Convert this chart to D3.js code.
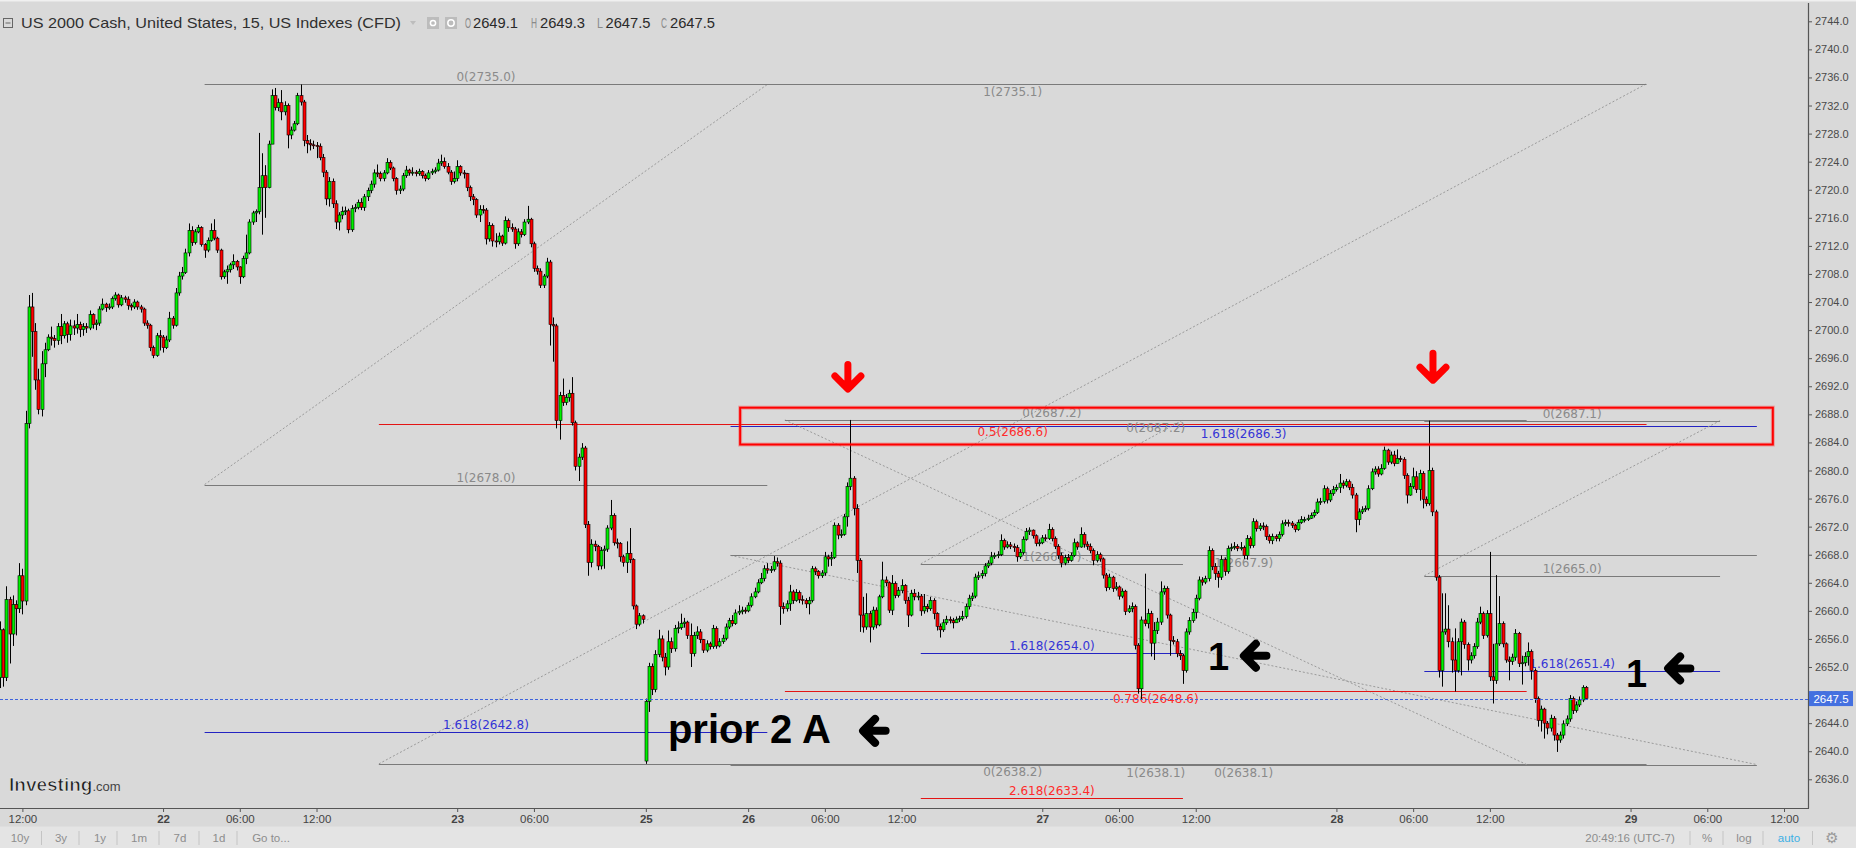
<!DOCTYPE html>
<html><head><meta charset="utf-8">
<script src="https://cdn.jsdelivr.net/npm/d3@7"></script>
<style>html,body{margin:0;padding:0;background:#d9d9d9;overflow:hidden}svg{display:block}</style>
</head><body>
<script>
// ---------------- DATA ----------------
const headerTitle = "US 2000 Cash, United States, 15, US Indexes (CFD)";
const ohlcLetters = ["O","H","L","C"];
const ohlcValues = ["2649.1","2649.3","2647.5","2647.5"];
const lastPrice = 2647.5;

// 15-minute bars, index = bar number on the trading-time axis
const closes = [
2657.3,2650.5,2661.6,2656.7,2660.9,2660.3,2665.0,2661.4,2686.7,2703.3,2699.8,2692.9,2688.7,2695.2,2697.2,2699.0,2698.8,2698.5,2700.5,2699.2,
2700.9,2699.4,2700.6,2700.3,2700.8,2700.1,2700.5,2700.3,2702.2,2700.8,2701.0,2703.0,2703.7,2703.2,2703.3,2704.5,2705.0,2703.6,2704.6,2704.4,
2703.5,2703.3,2704.0,2703.3,2703.0,2701.0,2700.7,2697.5,2696.4,2699.2,2699.0,2697.5,2698.6,2701.7,2700.7,2705.3,2707.7,2708.2,2711.0,2714.2,
2712.5,2714.0,2714.6,2712.2,2711.4,2712.8,2714.2,2713.1,2711.4,2707.6,2708.3,2708.6,2709.3,2709.8,2709.0,2707.6,2710.2,2711.0,2715.4,2716.7,
2716.9,2720.3,2722.0,2720.3,2726.5,2733.4,2731.7,2732.4,2731.1,2732.0,2727.8,2728.5,2729.4,2733.4,2732.5,2727.0,2726.6,2726.4,2726.3,2726.2,
2724.6,2722.5,2718.7,2721.2,2718.0,2715.4,2716.4,2716.9,2717.0,2714.3,2717.3,2717.5,2718.2,2717.5,2719.0,2719.9,2720.8,2722.4,2722.3,2721.6,
2722.4,2723.9,2723.1,2721.6,2719.9,2720.1,2722.0,2722.8,2722.4,2722.5,2722.3,2722.6,2722.0,2721.6,2722.4,2722.6,2722.8,2723.8,2724.0,2723.3,
2722.5,2721.2,2721.6,2723.3,2722.4,2722.3,2720.3,2719.0,2718.6,2716.4,2717.2,2717.1,2713.0,2714.9,2712.7,2712.6,2713.4,2712.4,2715.6,2714.6,
2714.4,2712.3,2714.0,2713.6,2715.4,2715.8,2712.3,2708.8,2708.4,2706.4,2707.7,2709.7,2700.8,2700.6,2687.1,2690.7,2689.7,2690.4,2691.0,2686.8,
2680.6,2681.9,2683.2,2672.3,2666.9,2669.5,2669.2,2666.4,2668.6,2668.8,2671.8,2673.6,2669.7,2669.6,2667.7,2666.9,2668.2,2667.3,2660.7,2658.1,
2659.3,2658.8,2647.1,2652.1,2648.8,2653.8,2656.0,2653.4,2652.0,2655.6,2654.6,2657.5,2657.6,2658.2,2658.4,2656.5,2653.9,2656.5,2657.0,2655.9,
2654.4,2655.3,2654.9,2657.5,2655.0,2655.6,2656.1,2657.7,2658.6,2658.2,2659.7,2659.9,2660.1,2660.0,2660.8,2662.0,2662.7,2664.0,2664.6,2666.0,
2665.8,2665.9,2667.0,2666.8,2660.6,2660.3,2661.0,2662.7,2661.5,2662.6,2661.6,2661.5,2661.0,2661.5,2666.0,2665.6,2665.0,2665.4,2667.7,2667.4,
2667.6,2672.2,2670.8,2670.9,2673.4,2677.7,2678.9,2674.6,2667.2,2659.4,2657.7,2659.6,2657.7,2660.1,2658.0,2662.0,2664.4,2664.0,2660.1,2663.9,
2662.2,2662.9,2663.6,2661.5,2659.4,2662.5,2662.0,2662.1,2660.0,2660.6,2660.3,2661.5,2659.6,2657.8,2657.3,2658.3,2658.8,2658.6,2658.3,2658.8,
2658.9,2659.2,2660.6,2661.8,2662.1,2664.8,2665.0,2665.3,2666.4,2666.8,2667.7,2667.9,2668.0,2670.0,2669.1,2669.4,2669.2,2669.0,2667.7,2668.3,
2670.2,2671.3,2671.5,2670.7,2669.6,2669.7,2670.4,2670.3,2671.6,2670.3,2669.2,2667.9,2666.8,2667.6,2667.2,2667.9,2669.7,2669.1,2670.9,2669.5,
2669.2,2668.6,2667.2,2668.0,2667.4,2665.1,2663.3,2664.8,2663.2,2663.4,2662.1,2662.8,2659.9,2660.3,2660.6,2655.1,2648.9,2658.7,2658.2,2659.6,
2655.4,2657.2,2658.4,2662.7,2663.2,2659.4,2655.8,2655.6,2653.9,2653.6,2651.5,2657.0,2658.6,2659.8,2661.8,2664.4,2664.1,2664.6,2668.6,2666.3,
2665.3,2664.8,2667.3,2665.6,2668.9,2669.0,2669.2,2668.9,2669.0,2667.9,2670.3,2669.3,2672.7,2671.7,2672.1,2672.0,2670.6,2670.0,2670.6,2670.3,
2670.9,2672.4,2672.6,2672.5,2672.2,2671.6,2672.6,2673.0,2673.0,2673.2,2673.6,2674.0,2675.5,2675.6,2677.4,2675.8,2676.7,2677.3,2677.6,2678.2,
2677.9,2678.4,2677.6,2676.5,2673.0,2674.1,2674.4,2674.6,2677.4,2679.8,2680.2,2679.5,2680.3,2682.9,2681.2,2682.2,2681.0,2681.7,2681.6,2679.3,
2676.5,2677.7,2679.1,2677.3,2679.6,2675.9,2675.3,2680.0,2674.1,2664.8,2651.5,2657.0,2657.4,2655.6,2653.0,2651.5,2655.6,2658.4,2655.2,2653.0,
2653.6,2654.9,2658.4,2659.6,2656.5,2659.6,2650.6,2650.1,2655.3,2658.2,2655.3,2653.0,2652.8,2653.4,2656.8,2652.5,2652.6,2653.5,2654.2,2651.5,
2647.5,2644.4,2646.0,2644.0,2643.3,2644.7,2642.3,2641.6,2642.3,2643.9,2644.6,2647.5,2645.8,2646.6,2647.3,2649.1,2647.5];

const highs = [
2658.5,2657.5,2663.5,2662.0,2662.2,2661.5,2666.8,2666.0,2688.5,2705.0,2705.3,2701.0,2694.5,2697.0,2698.2,2699.4,2700.5,2699.3,2701.0,2702.3,
2701.3,2701.2,2701.5,2701.4,2702.3,2701.2,2701.0,2701.0,2702.8,2702.4,2701.5,2703.4,2704.5,2703.9,2703.8,2704.8,2705.4,2705.2,2705.0,2704.9,
2704.8,2703.8,2704.4,2704.2,2703.6,2703.2,2701.4,2700.9,2697.8,2699.6,2700.0,2699.3,2699.2,2702.6,2702.0,2706.0,2708.3,2709.0,2711.6,2715.2,
2714.8,2714.4,2715.0,2714.8,2712.4,2713.2,2715.2,2715.8,2713.3,2711.6,2708.6,2709.2,2709.6,2710.8,2710.0,2709.1,2710.6,2713.6,2715.8,2717.0,
2717.2,2728.1,2725.2,2723.5,2727.0,2734.3,2734.5,2733.0,2734.2,2732.6,2732.3,2729.0,2729.8,2733.8,2735.0,2732.8,2727.8,2727.2,2727.0,2726.8,
2726.6,2725.1,2722.8,2721.8,2721.6,2718.5,2716.8,2717.6,2717.6,2717.3,2717.8,2718.0,2718.6,2718.8,2719.4,2720.3,2721.3,2722.9,2723.6,2722.6,
2722.8,2724.5,2724.2,2723.3,2721.8,2720.6,2722.4,2723.4,2723.0,2723.2,2722.8,2723.0,2722.8,2722.3,2722.8,2723.0,2723.2,2724.4,2725.0,2724.6,
2723.8,2722.8,2722.6,2724.2,2723.5,2722.8,2722.4,2720.6,2719.4,2718.8,2717.8,2717.8,2717.4,2715.4,2715.2,2713.8,2713.9,2713.6,2716.2,2715.9,
2715.2,2714.7,2714.5,2714.4,2715.8,2717.7,2716.0,2712.6,2709.2,2708.8,2708.0,2710.3,2710.0,2701.8,2700.9,2691.2,2693.1,2690.9,2691.5,2693.3,
2687.1,2682.4,2683.9,2683.5,2672.8,2670.2,2670.0,2669.4,2669.1,2669.3,2672.2,2675.8,2673.9,2670.3,2669.8,2668.0,2669.9,2671.8,2667.5,2660.9,
2659.7,2659.5,2647.5,2652.6,2652.5,2654.4,2657.3,2656.5,2654.0,2657.2,2656.2,2658.0,2658.5,2659.6,2659.0,2658.6,2658.2,2657.0,2657.8,2657.4,
2656.0,2655.8,2655.6,2658.0,2657.8,2656.1,2656.6,2658.2,2659.0,2659.4,2660.2,2660.8,2660.6,2660.5,2661.2,2662.5,2663.3,2664.5,2665.4,2666.5,
2666.8,2666.4,2667.8,2667.6,2667.2,2661.2,2661.5,2663.7,2663.0,2663.1,2662.9,2662.2,2661.8,2662.0,2666.4,2666.3,2665.8,2665.8,2668.4,2668.0,
2668.4,2672.6,2672.5,2671.6,2673.8,2678.3,2687.2,2679.2,2675.2,2667.5,2662.0,2662.5,2660.0,2660.6,2660.5,2662.3,2667.0,2664.9,2664.2,2665.1,
2664.2,2663.4,2664.5,2663.8,2662.0,2663.0,2663.1,2662.7,2662.4,2662.4,2661.0,2662.0,2661.8,2659.8,2658.2,2658.8,2659.3,2659.2,2659.0,2659.2,
2659.3,2660.0,2661.0,2662.3,2662.6,2665.3,2665.6,2665.8,2666.8,2667.2,2668.4,2668.3,2668.5,2670.9,2670.3,2669.9,2669.8,2669.6,2669.4,2668.8,
2670.6,2671.8,2671.9,2671.6,2670.9,2670.2,2670.8,2670.9,2672.4,2671.9,2670.6,2669.5,2668.3,2668.0,2668.1,2668.3,2670.3,2669.9,2671.9,2671.2,
2669.9,2669.6,2668.9,2668.5,2668.3,2667.6,2665.4,2665.3,2665.0,2664.1,2663.6,2663.2,2663.0,2660.8,2661.2,2660.9,2655.4,2659.2,2665.3,2660.3,
2660.0,2658.4,2659.0,2664.2,2663.6,2663.5,2659.6,2656.4,2656.0,2654.4,2653.9,2657.5,2659.1,2660.3,2662.3,2664.9,2664.8,2665.0,2669.2,2668.9,
2666.8,2665.7,2667.9,2667.6,2669.3,2669.6,2669.8,2669.5,2669.8,2669.3,2670.8,2670.6,2673.2,2673.0,2672.5,2672.6,2672.3,2670.9,2671.0,2670.9,
2671.3,2672.9,2673.0,2673.0,2672.8,2672.4,2673.0,2673.5,2673.4,2673.7,2674.0,2674.4,2676.0,2676.1,2677.9,2677.7,2677.2,2677.8,2678.0,2679.5,
2678.6,2678.8,2678.7,2678.1,2676.8,2674.6,2674.9,2675.0,2677.9,2680.3,2680.6,2680.6,2680.9,2683.4,2683.1,2682.7,2682.8,2683.0,2682.1,2681.9,
2679.6,2678.2,2680.4,2679.9,2680.1,2679.9,2676.3,2687.1,2680.4,2674.4,2665.1,2662.5,2662.5,2660.8,2656.2,2657.5,2656.1,2658.9,2658.7,2655.5,
2654.1,2655.4,2659.0,2660.6,2659.9,2660.1,2668.4,2655.3,2665.1,2662.1,2658.5,2655.5,2653.5,2653.9,2657.4,2657.0,2653.6,2654.1,2655.5,2654.5,
2651.8,2647.8,2646.5,2646.2,2644.3,2645.2,2645.0,2642.6,2642.8,2644.4,2645.1,2648.0,2647.8,2647.1,2647.8,2649.4,2649.3];

const lows = [
2649.0,2649.2,2650.0,2652.5,2655.0,2656.5,2659.7,2659.5,2660.8,2686.0,2696.2,2691.5,2688.0,2687.7,2693.3,2697.0,2697.8,2697.5,2697.9,2698.0,
2698.8,2698.2,2698.5,2699.3,2699.5,2699.0,2699.2,2699.6,2700.0,2700.2,2700.0,2700.6,2702.8,2702.6,2702.9,2703.0,2704.2,2703.2,2703.4,2703.9,
2702.9,2702.8,2703.0,2702.9,2702.5,2700.6,2700.2,2697.0,2696.0,2696.2,2697.1,2696.8,2697.3,2698.3,2700.2,2700.5,2704.9,2707.2,2708.0,2710.5,
2712.0,2712.2,2713.8,2711.9,2710.3,2711.1,2712.6,2712.8,2711.0,2707.2,2707.3,2706.6,2708.2,2708.7,2708.5,2706.6,2707.4,2709.4,2710.8,2715.0,
2715.4,2716.5,2713.6,2716.0,2720.2,2726.5,2731.3,2731.2,2729.9,2730.6,2725.9,2727.2,2728.3,2729.2,2732.0,2726.2,2725.2,2725.6,2725.8,2724.5,
2724.2,2721.8,2717.8,2717.6,2717.4,2714.4,2714.2,2715.8,2716.4,2713.8,2714.0,2716.8,2717.2,2717.1,2717.0,2718.4,2719.5,2720.3,2721.8,2721.2,
2721.2,2722.2,2722.8,2721.2,2719.3,2719.4,2719.8,2721.7,2722.0,2722.0,2721.9,2722.0,2721.6,2721.2,2721.4,2722.1,2722.3,2722.6,2723.4,2723.0,
2722.2,2720.7,2720.9,2721.2,2722.0,2721.6,2719.8,2718.4,2717.8,2716.0,2715.4,2716.6,2712.2,2712.6,2711.9,2711.8,2712.2,2712.0,2712.2,2714.0,
2714.0,2711.6,2712.0,2713.2,2713.4,2715.1,2711.8,2708.3,2707.9,2706.0,2706.0,2707.4,2697.8,2695.5,2686.0,2684.4,2689.2,2689.3,2689.8,2686.4,
2680.0,2678.5,2681.5,2671.8,2665.0,2666.2,2668.5,2665.8,2665.9,2666.0,2668.4,2671.5,2669.3,2668.9,2667.0,2666.3,2665.4,2666.8,2660.2,2657.4,
2657.8,2658.2,2638.2,2645.6,2648.0,2648.4,2653.4,2652.8,2650.8,2651.6,2654.0,2654.2,2656.8,2657.3,2657.6,2656.0,2652.0,2653.5,2656.0,2655.4,
2654.0,2654.1,2654.5,2654.6,2654.6,2654.8,2655.3,2655.8,2657.4,2657.8,2658.0,2659.4,2659.5,2659.6,2659.8,2660.5,2661.8,2662.5,2663.8,2664.2,
2665.3,2665.4,2665.6,2666.3,2658.0,2659.6,2659.9,2660.0,2661.0,2661.3,2661.1,2660.9,2660.4,2659.5,2661.2,2665.1,2664.6,2664.7,2665.0,2666.3,
2666.4,2667.4,2670.2,2670.4,2670.7,2672.0,2677.2,2673.6,2665.4,2657.0,2656.9,2657.3,2655.5,2657.3,2657.5,2657.8,2661.8,2663.5,2659.7,2659.4,
2661.8,2661.9,2662.5,2661.0,2657.7,2659.2,2661.5,2661.5,2659.3,2659.6,2659.8,2660.0,2658.8,2657.2,2656.2,2657.0,2658.0,2658.2,2657.5,2658.3,
2658.4,2658.6,2658.9,2660.2,2661.4,2661.8,2664.4,2664.6,2664.9,2666.1,2666.5,2667.4,2667.5,2667.8,2668.7,2668.9,2668.8,2668.4,2667.0,2667.4,
2668.0,2670.0,2670.8,2670.3,2669.2,2669.2,2669.5,2669.9,2670.1,2669.9,2668.8,2667.4,2666.2,2666.5,2666.8,2667.0,2667.7,2668.7,2669.0,2669.0,
2668.7,2668.2,2666.5,2666.9,2667.0,2664.6,2662.8,2663.0,2662.7,2662.9,2661.6,2661.8,2659.4,2659.7,2659.8,2654.5,2648.2,2647.3,2657.8,2657.5,
2653.5,2653.0,2656.7,2658.0,2662.3,2658.9,2653.6,2655.2,2653.4,2653.0,2649.6,2651.2,2656.6,2658.3,2658.9,2661.5,2663.6,2663.8,2664.2,2665.8,
2664.4,2663.3,2664.4,2665.0,2665.3,2668.5,2668.7,2668.5,2668.6,2667.4,2667.3,2668.9,2669.0,2671.3,2671.4,2671.5,2670.1,2669.6,2669.5,2669.9,
2669.9,2670.6,2672.1,2672.0,2671.8,2671.2,2671.4,2672.4,2672.6,2672.8,2673.1,2673.3,2673.8,2675.1,2675.3,2675.3,2675.5,2676.4,2677.0,2676.8,
2677.4,2677.6,2677.2,2676.0,2671.2,2672.2,2673.8,2674.1,2674.3,2677.2,2679.4,2679.1,2679.3,2680.1,2680.8,2680.9,2680.6,2681.0,2681.2,2678.8,
2675.3,2676.4,2677.4,2676.8,2675.7,2674.6,2674.9,2675.0,2673.5,2664.3,2650.5,2649.2,2656.6,2654.8,2651.2,2648.5,2651.2,2650.8,2654.6,2651.5,
2652.5,2653.2,2654.6,2658.1,2656.0,2656.2,2650.0,2646.8,2649.6,2655.0,2654.8,2652.6,2650.1,2652.3,2652.9,2652.0,2649.5,2652.1,2652.2,2650.2,
2646.9,2643.5,2642.8,2641.8,2642.4,2642.8,2641.5,2639.9,2641.2,2641.8,2643.6,2644.2,2645.3,2645.5,2646.3,2647.0,2647.5];

// opens are the previous close except where a session opened with a gap
const sessionOpens = {0: 2650.5, 202: 2638.6};

const priceTicks = [2636,2640,2644,2648,2652,2656,2660,2664,2668,2672,2676,2680,2684,2688,
                    2692,2696,2700,2704,2708,2712,2716,2720,2724,2728,2732,2736,2740,2744];
const timeTickBars = [7,51,75,99,143,167,202,234,258,282,326,350,374,418,442,466,510,534,558];
const timeTickLabels = ["12:00","22","06:00","12:00","23","06:00","25","26","06:00","12:00","27","06:00","12:00","28","06:00","12:00","29","06:00","12:00"];

// Fibonacci drawings: span in bars, trend line [start price, end price], levels [label, price]
const fibA = {span:[64,240],     trend:[2678.0,2735.0], side:"above", levels:[["0",2735.0],["1",2678.0],["1.618",2642.8]]};
const fibB = {span:[118.5,515],  trend:[2638.2,2735.1], side:"below", levels:[["0",2638.2],["0.5",2686.6],["1",2735.1]]};
const fibD = {span:[228.5,549.5],trend:[2667.9,2638.1], side:"below", levels:[["0",2638.1],["1",2667.9],["1.618",2686.3]]};
const fibF = {span:[288,370],    trend:[2666.7,2687.2], side:"above", levels:[["0",2687.2],["1",2666.7],["1.618",2654.0],["2.618",2633.4]]};
const fibG = {span:[245.5,477.5],trend:[2687.2,2638.1], side:"below", levels:[["0",2687.2],["0.786",2648.6],["1",2638.1]]};
const fibH = {span:[445.5,538],  trend:[2665.0,2687.1], side:"above", levels:[["0",2687.1],["1",2665.0],["1.618",2651.4]]};
const fibTools = [fibA, fibB, fibD, fibF, fibG, fibH];

const zoneBox = {bars:[231.5,554.5], prices:[2688.95,2683.7]};
const redArrows = [{bar:265.2, top:2695.6, tip:2691.05},{bar:448.2, top:2697.2, tip:2692.3}];
const blackArrows = [{tip:268.7, tail:278.1, price:2642.9},{tip:387.8, tail:397.2, price:2653.6},{tip:520.5, tail:529.8, price:2651.8}];
const notes = [{bar:208.9, price:2641.17, text:"prior 2 A", size:40},{bar:377.8, price:2651.6, text:"1", size:38},{bar:508.6, price:2649.2, text:"1", size:38}];

const toolbarLeft = ["10y","3y","1y","1m","7d","1d","Go to..."];
const toolbarRight = ["20:49:16 (UTC-7)","%","log","auto"];

// ---------------- DRAW ----------------
const W = 1856, H = 848, plotR = 1808, plotB = 808;
const x = d3.scaleLinear().domain([0, 565.5]).range([0, plotR]);
const y = d3.scaleLinear().domain([2636, 2744]).range([779.3, 21.3]);

const svg = d3.select("body").append("svg").attr("width", W).attr("height", H);
svg.append("rect").attr("width", W).attr("height", H).attr("fill", "#d9d9d9");
svg.append("rect").attr("width", W).attr("height", 1.5).attr("fill", "#f0f0f0");
svg.append("rect").attr("y", 826.5).attr("width", W).attr("height", 22).attr("fill", "#e4e4e4");

svg.append("defs").append("clipPath").attr("id", "plotclip")
  .append("rect").attr("width", plotR).attr("height", plotB);
const plot = svg.append("g").attr("clip-path", "url(#plotclip)");

// fib tools
const levelKind = k => (k === "1.618") ? "blue" : ((k === "0.5" || k === "0.786" || k === "2.618") ? "red" : "gray");
const lineCol = {gray:"#7a7a7a", red:"#e31414", blue:"#2323c2"};
const textCol = {gray:"#8a8a8a", red:"#ff2b2b", blue:"#3434d6"};
const fibLayer = plot.append("g");
fibTools.forEach(t => {
  fibLayer.append("line")
    .attr("x1", x(t.span[0])).attr("y1", y(t.trend[0]))
    .attr("x2", x(t.span[1])).attr("y2", y(t.trend[1]))
    .attr("stroke", "#9a9a9a").attr("stroke-width", 1).attr("stroke-dasharray", "2,2");
  t.levels.forEach(([k, p]) => {
    const kind = levelKind(k);
    const yy = Math.round(y(p)) + 0.5;
    fibLayer.append("line").attr("x1", x(t.span[0])).attr("x2", x(t.span[1]))
      .attr("y1", yy).attr("y2", yy).attr("stroke", lineCol[kind]).attr("stroke-width", 1);
  });
});
fibTools.forEach(t => {
  t.levels.forEach(([k, p]) => {
    const kind = levelKind(k);
    fibLayer.append("text")
      .attr("x", x((t.span[0] + t.span[1]) / 2))
      .attr("y", t.side === "above" ? y(p) - 3 : y(p) + 12)
      .attr("text-anchor", "middle")
      .attr("font-family", "DejaVu Sans, Verdana, sans-serif").attr("font-size", 12)
      .attr("fill", textCol[kind])
      .text(`${k}(${p.toFixed(1)})`);
  });
});

// candles
const bars = closes.map((c, i) => {
  const o = (i in sessionOpens) ? sessionOpens[i] : closes[i - 1];
  return {i, o, c, h: Math.max(highs[i], o, c), l: Math.min(lows[i], o, c)};
});
const cg = plot.append("g");
cg.selectAll("line.wick").data(bars).join("line")
  .attr("x1", d => Math.round(x(d.i)) + 0.5).attr("x2", d => Math.round(x(d.i)) + 0.5)
  .attr("y1", d => y(d.h)).attr("y2", d => y(d.l))
  .attr("stroke", "#000").attr("stroke-width", 1);
cg.selectAll("rect.body").data(bars).join("rect")
  .attr("x", d => Math.round(x(d.i)) - 1)
  .attr("width", 3)
  .attr("y", d => y(Math.max(d.o, d.c)))
  .attr("height", d => Math.max(1, Math.abs(y(d.o) - y(d.c))))
  .attr("fill", d => d.c >= d.o ? "#00f000" : "#ff0000")
  .attr("stroke", "#000").attr("stroke-width", 0.6);

// last price dashed line
const lp = Math.round(y(lastPrice)) + 0.5;
plot.append("line").attr("x1", 0).attr("x2", plotR).attr("y1", lp).attr("y2", lp)
  .attr("stroke", "#3f63dc").attr("stroke-width", 1).attr("stroke-dasharray", "3,2");

// zone box
plot.append("rect")
  .attr("x", x(zoneBox.bars[0])).attr("y", y(zoneBox.prices[0]))
  .attr("width", x(zoneBox.bars[1]) - x(zoneBox.bars[0]))
  .attr("height", y(zoneBox.prices[1]) - y(zoneBox.prices[0]))
  .attr("fill", "none").attr("stroke", "#ff3030").attr("stroke-opacity", 0.35).attr("stroke-width", 4);
plot.append("rect")
  .attr("x", x(zoneBox.bars[0])).attr("y", y(zoneBox.prices[0]))
  .attr("width", x(zoneBox.bars[1]) - x(zoneBox.bars[0]))
  .attr("height", y(zoneBox.prices[1]) - y(zoneBox.prices[0]))
  .attr("fill", "none").attr("stroke", "#ff0000").attr("stroke-width", 2);

// red arrows
redArrows.forEach(a => {
  const cx = x(a.bar), yt = y(a.top), yp = y(a.tip);
  plot.append("path")
    .attr("d", `M${cx},${yt + 3.5}L${cx},${yp - 5}M${cx - 13},${yp - 17}L${cx},${yp - 4}L${cx + 13},${yp - 17}`)
    .attr("fill", "none").attr("stroke", "#ff0000").attr("stroke-width", 7)
    .attr("stroke-linecap", "round").attr("stroke-linejoin", "round");
});
// black arrows
blackArrows.forEach(a => {
  const xt = x(a.tip), xe = x(a.tail), cy = y(a.price);
  plot.append("path")
    .attr("d", `M${xe - 3.5},${cy}L${xt + 5},${cy}M${xt + 16},${cy - 12}L${xt + 4},${cy}L${xt + 16},${cy + 12}`)
    .attr("fill", "none").attr("stroke", "#000").attr("stroke-width", 8)
    .attr("stroke-linecap", "round").attr("stroke-linejoin", "round");
});
notes.forEach(n => {
  plot.append("text").attr("x", x(n.bar)).attr("y", y(n.price))
    .attr("font-family", "Liberation Sans, Arial, sans-serif").attr("font-weight", "bold")
    .attr("font-size", n.size).attr("fill", "#000").text(n.text);
});

// watermark
const wm = svg.append("text").attr("x", 9).attr("y", 791)
  .attr("font-family", "Liberation Sans, Arial, sans-serif");
wm.append("tspan").attr("font-weight", "bold").attr("font-size", 19).attr("fill", "#1e1e1e")
  .attr("stroke", "#f4f4f4").attr("stroke-width", 0.6).text("Investing");
wm.append("tspan").attr("font-size", 13).attr("fill", "#444").text(".com");

// axes
const yAxis = svg.append("g").attr("transform", `translate(${plotR},0)`)
  .call(d3.axisRight(y).tickValues(priceTicks).tickFormat(d3.format(".1f")).tickSize(4).tickPadding(3));
yAxis.select(".domain").remove();
yAxis.selectAll("line").attr("stroke", "#555");
yAxis.selectAll("text").attr("font-family", "Liberation Sans, Arial, sans-serif").attr("font-size", 11).attr("fill", "#4a4a4a");

const xAxis = svg.append("g").attr("transform", `translate(0,${plotB})`)
  .call(d3.axisBottom(x).tickValues(timeTickBars).tickFormat((d, i) => timeTickLabels[i]).tickSize(4).tickPadding(3));
xAxis.select(".domain").remove();
xAxis.selectAll("line").attr("stroke", "#555");
xAxis.selectAll("text").attr("font-family", "Liberation Sans, Arial, sans-serif").attr("font-size", 11.5)
  .attr("fill", "#444").attr("font-weight", (d, i) => timeTickLabels[i].includes(":") ? "normal" : "bold");

svg.append("line").attr("x1", plotR + 0.5).attr("x2", plotR + 0.5).attr("y1", 3).attr("y2", plotB + 0.5)
  .attr("stroke", "#555").attr("stroke-width", 1.2);
svg.append("line").attr("x1", 0).attr("x2", plotR + 1).attr("y1", plotB + 0.5).attr("y2", plotB + 0.5)
  .attr("stroke", "#555").attr("stroke-width", 1.2);

// last price tag
svg.append("rect").attr("x", plotR + 1).attr("y", y(lastPrice) - 7.5).attr("width", 44).attr("height", 15).attr("fill", "#4470e0");
svg.append("text").attr("x", plotR + 23).attr("y", y(lastPrice) + 4).attr("text-anchor", "middle")
  .attr("font-family", "Liberation Sans, Arial, sans-serif").attr("font-size", 11.5).attr("fill", "#fff").text(lastPrice.toFixed(1));

// header
const hdr = svg.append("g").attr("font-family", "Liberation Sans, Arial, sans-serif").attr("font-size", 15);
hdr.append("rect").attr("x", 3.5).attr("y", 18.5).attr("width", 9).attr("height", 9).attr("fill", "none").attr("stroke", "#666");
hdr.append("line").attr("x1", 5.5).attr("x2", 10.5).attr("y1", 23).attr("y2", 23).attr("stroke", "#666");
hdr.append("text").attr("x", 21).attr("y", 28).attr("fill", "#303030")
  .attr("textLength", 380).attr("lengthAdjust", "spacingAndGlyphs").text(headerTitle);
hdr.append("path").attr("d", "M410,21L416,21L413,25Z").attr("fill", "#bdbdbd");
[427, 445].forEach((bx, i) => {
  hdr.append("rect").attr("x", bx).attr("y", 17).attr("width", 12).attr("height", 12).attr("fill", "#bcbcbc");
  hdr.append("circle").attr("cx", bx + 6).attr("cy", 23).attr("r", i ? 3.2 : 2.6).attr("fill", "none").attr("stroke", "#fff").attr("stroke-width", 1.5);
});
const letterX = [465, 531, 597, 661], valueX = [473, 540, 605.5, 670];
ohlcLetters.forEach((l, i) => {
  hdr.append("text").attr("x", letterX[i]).attr("y", 28).attr("fill", "#8a8a8a")
    .attr("textLength", 6).attr("lengthAdjust", "spacingAndGlyphs").text(l);
  hdr.append("text").attr("x", valueX[i]).attr("y", 28).attr("fill", "#2a2a2a")
    .attr("textLength", 45).attr("lengthAdjust", "spacingAndGlyphs").text(ohlcValues[i]);
});

// bottom toolbar
const tb = svg.append("g").attr("font-family", "Liberation Sans, Arial, sans-serif").attr("font-size", 11.5).attr("fill", "#8d8d8d");
const leftCenters = [20, 61, 100, 139, 180, 219, 271];
const leftSeps = [41.5, 79, 117, 159, 199, 237];
toolbarLeft.forEach((t, i) => tb.append("text").attr("x", leftCenters[i]).attr("y", 842).attr("text-anchor", "middle").text(t));
leftSeps.forEach(s => tb.append("line").attr("x1", s).attr("x2", s).attr("y1", 831).attr("y2", 845).attr("stroke", "#c4c4c4"));
const rightCenters = [1630, 1707, 1744, 1789];
const rightSeps = [1690, 1723, 1763, 1812.5];
toolbarRight.forEach((t, i) => tb.append("text").attr("x", rightCenters[i]).attr("y", 842).attr("text-anchor", "middle")
  .attr("fill", t === "auto" ? "#3cb0e4" : "#8d8d8d").text(t));
rightSeps.forEach(s => tb.append("line").attr("x1", s).attr("x2", s).attr("y1", 831).attr("y2", 845).attr("stroke", "#c4c4c4"));
tb.append("text").attr("x", 1832).attr("y", 843).attr("text-anchor", "middle").attr("font-family", "DejaVu Sans")
  .attr("font-size", 15).attr("fill", "#9a9a9a").text("\u2699");
</script>
</body></html>
